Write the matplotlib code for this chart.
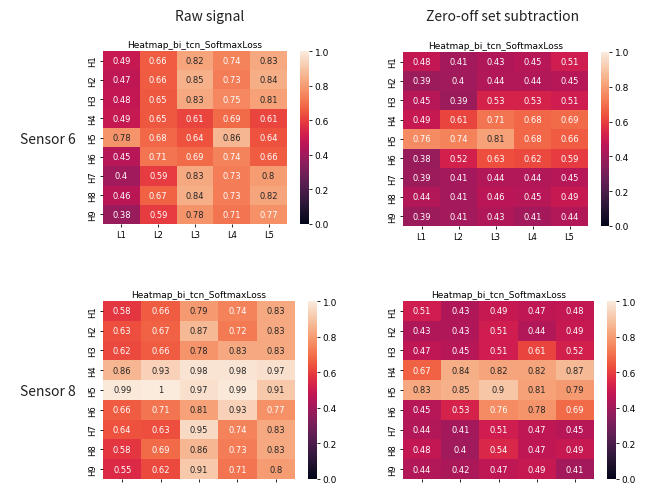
import numpy as np
import matplotlib
matplotlib.use('Agg')
import matplotlib.pyplot as plt
import seaborn as sns

rows = ['H1', 'H2', 'H3', 'H4', 'H5', 'H6', 'H7', 'H8', 'H9']
cols = ['L1', 'L2', 'L3', 'L4', 'L5']

# sensor 6, raw signal
s6_raw = [
    [0.49, 0.66, 0.82, 0.74, 0.83],
    [0.47, 0.66, 0.85, 0.73, 0.84],
    [0.48, 0.65, 0.83, 0.75, 0.81],
    [0.49, 0.65, 0.61, 0.69, 0.61],
    [0.78, 0.68, 0.64, 0.86, 0.64],
    [0.45, 0.71, 0.69, 0.74, 0.66],
    [0.40, 0.59, 0.83, 0.73, 0.80],
    [0.46, 0.67, 0.84, 0.73, 0.82],
    [0.38, 0.59, 0.78, 0.71, 0.77],
]

# sensor 6, zero-offset subtracted
s6_zero = [
    [0.48, 0.41, 0.43, 0.45, 0.51],
    [0.39, 0.40, 0.44, 0.44, 0.45],
    [0.45, 0.39, 0.53, 0.53, 0.51],
    [0.49, 0.61, 0.71, 0.68, 0.69],
    [0.76, 0.74, 0.81, 0.68, 0.66],
    [0.38, 0.52, 0.63, 0.62, 0.59],
    [0.39, 0.41, 0.44, 0.44, 0.45],
    [0.44, 0.41, 0.46, 0.45, 0.49],
    [0.39, 0.41, 0.43, 0.41, 0.44],
]

# sensor 8, raw signal
s8_raw = [
    [0.58, 0.66, 0.79, 0.74, 0.83],
    [0.63, 0.67, 0.87, 0.72, 0.83],
    [0.62, 0.66, 0.78, 0.83, 0.83],
    [0.86, 0.93, 0.98, 0.98, 0.97],
    [0.99, 1.00, 0.97, 0.99, 0.91],
    [0.66, 0.71, 0.81, 0.93, 0.77],
    [0.64, 0.63, 0.95, 0.74, 0.83],
    [0.58, 0.69, 0.86, 0.73, 0.83],
    [0.55, 0.62, 0.91, 0.71, 0.80],
]

# sensor 8, zero-offset subtracted
s8_zero = [
    [0.51, 0.43, 0.49, 0.47, 0.48],
    [0.43, 0.43, 0.51, 0.44, 0.49],
    [0.47, 0.45, 0.51, 0.61, 0.52],
    [0.67, 0.84, 0.82, 0.82, 0.87],
    [0.83, 0.85, 0.90, 0.81, 0.79],
    [0.45, 0.53, 0.76, 0.78, 0.69],
    [0.44, 0.41, 0.51, 0.47, 0.45],
    [0.48, 0.40, 0.54, 0.47, 0.49],
    [0.44, 0.42, 0.47, 0.49, 0.41],
]

W, H = 646, 485
fig = plt.figure(figsize=(W / 100, H / 100), dpi=100)
fig.patch.set_facecolor('white')


def px_axes(x0, y0, x1, y1):
    # pixel box (top-left origin) -> figure axes
    return fig.add_axes([x0 / W, (H - y1) / H, (x1 - x0) / W, (y1 - y0) / H])


def draw(data, box, cbox):
    ax = px_axes(*box)
    cax = px_axes(*cbox)
    sns.heatmap(np.array(data), ax=ax, cbar_ax=cax, annot=True,
                annot_kws={'fontsize': 6}, vmin=0, vmax=1, cmap='rocket',
                xticklabels=cols, yticklabels=rows)
    ax.set_title('Heatmap_bi_tcn_SoftmaxLoss', fontsize=6.5, pad=3)
    ax.tick_params(labelsize=6, length=2.5, width=0.6, pad=2)
    ax.set_yticklabels(rows, rotation=90, va='center')
    ax.set_xticklabels(cols, rotation=0)
    cax.tick_params(labelsize=6.5, length=2.5, width=0.6, pad=1.5)
    cax.set_yticks([0, 0.2, 0.4, 0.6, 0.8, 1.0])
    for s in cax.spines.values():
        s.set_visible(False)


draw(s6_raw, (103, 52, 287, 225), (300, 52, 309, 225))
draw(s6_zero, (403, 53, 588, 227), (601, 53, 609, 227))
draw(s8_raw, (103, 302, 295, 480), (308, 302, 317, 480))
draw(s8_zero, (403, 302, 594, 480), (607, 302, 616, 480))

lbl = dict(fontsize=10, family=['Noto Sans CJK KR', 'DejaVu Sans'],
           color='#222222', va='center')
fig.text(210 / W, 1 - 17 / H, 'Raw signal', ha='center', **lbl)
fig.text(503 / W, 1 - 17 / H, 'Zero-off set subtraction', ha='center', **lbl)
fig.text(20 / W, 1 - 140 / H, 'Sensor 6', ha='left', **lbl)
fig.text(20 / W, 1 - 392 / H, 'Sensor 8', ha='left', **lbl)

fig.savefig('out.png', dpi=100, facecolor='white')
